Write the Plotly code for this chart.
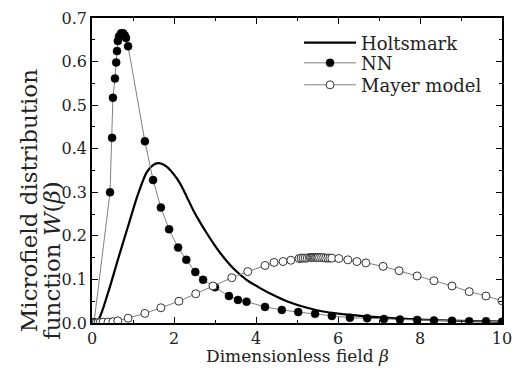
import plotly.graph_objects as go

# Holtsmark (solid curve)
holt_x = [0, 0.15, 0.39, 0.63, 0.88, 1.12, 1.33, 1.48, 1.62, 1.82, 1.98, 2.15, 2.31, 2.47,
          2.63, 2.80, 2.96, 3.20, 3.45, 3.77, 4.10, 4.42, 4.80, 5.2, 5.6, 6.05, 6.6, 7.2,
          8.0, 9.0, 10.0]
holt_y = [0, 0.007, 0.069, 0.145, 0.222, 0.295, 0.345, 0.362, 0.367, 0.359, 0.343, 0.320,
          0.290, 0.259, 0.232, 0.206, 0.183, 0.152, 0.125, 0.099, 0.080, 0.064, 0.048, 0.036,
          0.027, 0.021, 0.016, 0.012, 0.008, 0.005, 0.003]

# NN (filled circles)
nn_x = [0, 0.05, 0.44, 0.49, 0.51, 0.56, 0.59, 0.61, 0.63, 0.66, 0.71, 0.76, 0.80, 0.83, 0.88,
        1.29, 1.49, 1.68, 1.88, 2.10, 2.30, 2.52, 2.71, 3.0, 3.34, 3.56, 3.77, 4.22, 4.63,
        5.03, 5.44, 5.85, 6.29, 6.71, 7.12, 7.51, 7.93, 8.34, 8.78, 9.2, 9.61, 10.0]
nn_y = [0, 0.002, 0.300, 0.425, 0.517, 0.561, 0.598, 0.624, 0.647, 0.658, 0.665, 0.665, 0.660,
        0.654, 0.635, 0.417, 0.328, 0.265, 0.215, 0.173, 0.145, 0.117, 0.099, 0.082, 0.062,
        0.053, 0.049, 0.037, 0.030, 0.025, 0.021, 0.016, 0.012, 0.011, 0.009, 0.008, 0.007,
        0.006, 0.005, 0.004, 0.004, 0.003]

# Mayer model (open circles)
mayer_x = [0.0, 0.05, 0.1, 0.15, 0.2, 0.27, 0.39, 0.51, 0.63, 0.88, 1.29, 1.68, 2.12, 2.53,
           2.95, 3.41, 3.80, 4.22, 4.44, 4.66, 4.85, 5.05, 5.10, 5.15, 5.20, 5.25, 5.30, 5.33,
           5.36, 5.39, 5.42, 5.45, 5.48, 5.51, 5.55, 5.60, 5.65, 5.70, 5.75, 5.80, 5.85, 6.02,
           6.24, 6.46, 6.68, 7.10, 7.49, 7.93, 8.34, 8.78, 9.20, 9.61, 10.0]
mayer_y = [0.0, 0.0, 0.0, 0.001, 0.001, 0.002, 0.002, 0.003, 0.005, 0.011, 0.022, 0.035,
           0.050, 0.067, 0.085, 0.104, 0.118, 0.132, 0.139, 0.141, 0.144, 0.148, 0.149, 0.149,
           0.149, 0.149, 0.150, 0.150, 0.150, 0.150, 0.150, 0.150, 0.150, 0.150, 0.150, 0.150,
           0.150, 0.149, 0.149, 0.149, 0.149, 0.148, 0.145, 0.141, 0.138, 0.130, 0.120, 0.108,
           0.097, 0.085, 0.072, 0.062, 0.051]

x_ticks = [0, 2, 4, 6, 8, 10]
y_ticks = [0.0, 0.1, 0.2, 0.3, 0.4, 0.5, 0.6, 0.7]
y_title_lines = ["Microfield distribution", "function <i>W</i>(<i>β</i>)"]
x_title = "Dimensionless field <i>β</i>"

FONT = "DejaVu Serif"
TXT = "#222222"

fig = go.Figure()
fig.add_trace(go.Scatter(
    x=holt_x, y=holt_y, mode="lines", name="Holtsmark", legend="legend",
    line=dict(color="black", width=2.2, shape="spline", smoothing=0.8)))
fig.add_trace(go.Scatter(
    x=nn_x, y=nn_y, mode="lines+markers", name="NN", legend="legend2",
    line=dict(color="#808080", width=1),
    marker=dict(symbol="circle", size=8, color="black", line=dict(color="black", width=0.5))))
fig.add_trace(go.Scatter(
    x=mayer_x, y=mayer_y, mode="lines+markers", name="Mayer model", legend="legend3",
    line=dict(color="#808080", width=1),
    marker=dict(symbol="circle", size=8, color="white", line=dict(color="#333333", width=1))))

axis_common = dict(
    showline=True, linecolor="black", linewidth=1.5, mirror="allticks",
    ticks="inside", ticklen=6, tickwidth=1, tickcolor="black",
    showgrid=False, zeroline=False, automargin=False, ticklabeloverflow="allow",
    tickfont=dict(family=FONT, size=16, color=TXT),
)

fig.update_xaxes(
    range=[0, 10], tickvals=x_ticks, ticktext=[str(v) for v in x_ticks],
    minor=dict(dtick=1, ticks="inside", ticklen=3, tickcolor="black"),
    **axis_common)
fig.update_yaxes(
    range=[0, 0.7], tickvals=y_ticks, ticktext=[f"{v:.1f}" for v in y_ticks],
    minor=dict(dtick=0.05, ticks="inside", ticklen=3, tickcolor="black"),
    **axis_common)

# x title
fig.add_annotation(text=x_title, xref="paper", yref="paper", x=0.5, y=-0.108,
                   showarrow=False, xanchor="center", yanchor="middle",
                   font=dict(family=FONT, size=17, color=TXT))
# two-line rotated y title
fig.add_annotation(text=y_title_lines[0], xref="paper", yref="paper", x=-0.153, y=0.400,
                   textangle=-90, showarrow=False, xanchor="center", yanchor="middle",
                   font=dict(family=FONT, size=23, color=TXT))
fig.add_annotation(text=y_title_lines[1], xref="paper", yref="paper", x=-0.097, y=0.205,
                   textangle=-90, showarrow=False, xanchor="center", yanchor="middle",
                   font=dict(family=FONT, size=23, color=TXT))

leg_common = dict(x=0.505, xanchor="left", yanchor="middle",
                  bgcolor="rgba(0,0,0,0)", borderwidth=0,
                  font=dict(family=FONT, size=18, color=TXT), itemwidth=52)

fig.update_layout(
    width=511, height=366,
    margin=dict(l=84, r=17, t=10, b=51),
    paper_bgcolor="white", plot_bgcolor="white",
    showlegend=True,
    legend=dict(y=0.918, **leg_common),
    legend2=dict(y=0.852, **leg_common),
    legend3=dict(y=0.780, **leg_common),
)

fig.write_html("out.html")
